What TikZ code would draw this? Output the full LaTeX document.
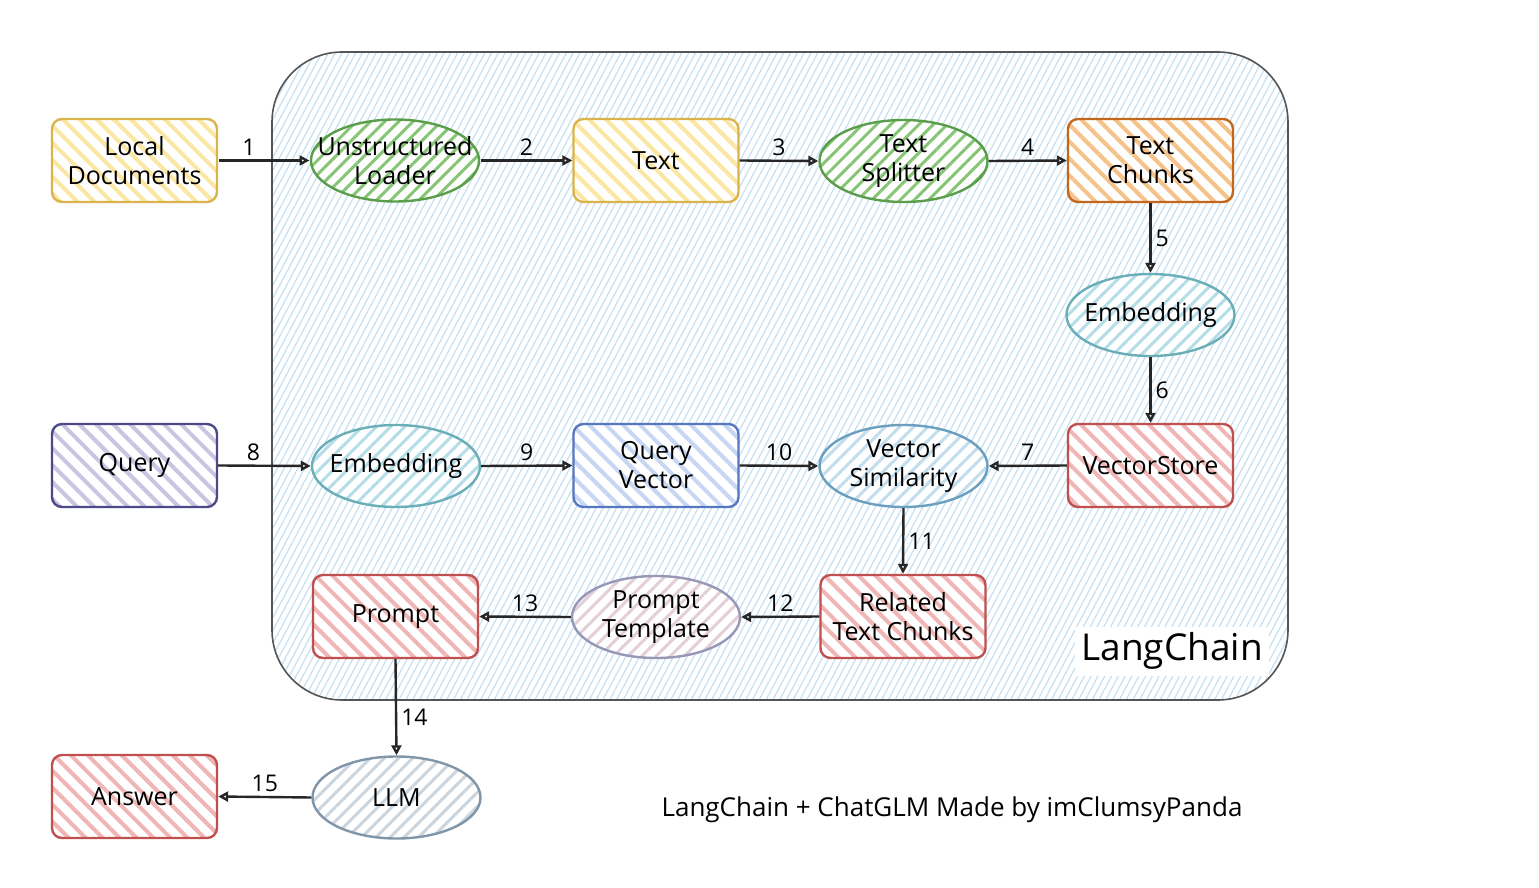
\documentclass[tikz,border=0pt]{standalone}
\usepackage{fontspec}
\setmainfont{Open Sans}
\usetikzlibrary{shapes.geometric,patterns.meta,arrows.meta}
\definecolor{ylS}{HTML}{D9B44A}\definecolor{ylH}{HTML}{FBE7A3}
\definecolor{grS}{HTML}{5A9E4B}\definecolor{grH}{HTML}{86C476}
\definecolor{orS}{HTML}{C2671B}\definecolor{orH}{HTML}{F5C28A}
\definecolor{tlS}{HTML}{6AAEB7}\definecolor{tlH}{HTML}{B5DDE8}
\definecolor{rdS}{HTML}{C0504F}\definecolor{rdH}{HTML}{F0B6B5}
\definecolor{puS}{HTML}{4B4A86}\definecolor{puH}{HTML}{C9C4E2}
\definecolor{blS}{HTML}{5477BF}\definecolor{blH}{HTML}{C6D6F3}
\definecolor{vsS}{HTML}{6A9FC0}\definecolor{vsH}{HTML}{C2DDEE}
\definecolor{ptS}{HTML}{9797B8}\definecolor{ptH}{HTML}{E3CFD8}
\definecolor{llS}{HTML}{8096A8}\definecolor{llH}{HTML}{CBD5DE}
\definecolor{lcS}{HTML}{555555}\definecolor{lcH}{HTML}{C4E0F2}
\tikzset{
  rbox/.style args={#1/#2}{draw=#1, line width=1.2pt, rounded corners=5pt,
    minimum width=82.5pt, minimum height=41.5pt, inner sep=1pt,
    align=center, font=\fontsize{12.5}{14.5}\selectfont,
    preaction={fill=white},
    pattern={Lines[angle=-45,distance=6pt,line width=2pt]}, pattern color=#2},
  rell/.style args={#1/#2}{ellipse, draw=#1, line width=1.2pt,
    minimum width=84pt, minimum height=41pt, inner sep=0pt,
    preaction={fill=white},
    pattern={Lines[angle=45,distance=5pt,line width=1.5pt]}, pattern color=#2},
  every label/.style={align=center, font=\fontsize{12.5}{14.5}\selectfont, inner sep=0pt},
  arr/.style={draw=black!85, line width=1.2pt, -{Triangle[open,length=5pt,width=5pt]}},
  lbl/.style={font=\fontsize{11.5}{13}\selectfont, inner sep=2pt},
}
\begin{document}
\begin{tikzpicture}[x=0.5pt,y=-0.5pt]
\useasboundingbox (0,0) rectangle (1539,888);
% container
\node[draw=lcS, line width=0.8pt, rounded corners=35pt, minimum width=508pt, minimum height=324pt,
  preaction={fill=white}, pattern={Lines[angle=62,distance=3pt,line width=0.6pt]}, pattern color=lcH]
  (lc) at (780,376) {};
\node[fill=white, font=\fontsize{18.5}{22}\selectfont, inner sep=3pt] (lctitle) at (1172,651) {LangChain};
% nodes
\node[rbox=ylS/ylH] (ld) at (134.5,160.5) {Local\\Documents};
\node[rell=grS/grH, label=center:{Unstructured\\Loader}] (ul) at (395,160.5) {};
\node[rbox=ylS/ylH] (tx) at (656,160.5) {Text};
\node[rell=grS/grH, label=center:{Text\\Splitter}] (ts) at (903.5,161) {};
\node[rbox=orS/orH] (tc) at (1150.5,160.5) {Text\\Chunks};
\node[rell=tlS/tlH, label=center:{Embedding}] (em1) at (1150.5,315) {};
\node[rbox=rdS/rdH] (vst) at (1150.5,465.5) {VectorStore};
\node[rbox=puS/puH] (q) at (134.5,465.5) {Query};
\node[rell=tlS/tlH, label=center:{Embedding}] (em2) at (396,466) {};
\node[rbox=blS/blH] (qv) at (656,465.5) {Query\\Vector};
\node[rell=vsS/vsH, label=center:{Vector\\Similarity}] (vsim) at (903.5,466) {};
\node[rbox=rdS/rdH] (rtc) at (903,616.5) {Related\\Text Chunks};
\node[rell=ptS/ptH, label=center:{Prompt\\Template}] (pt) at (656,617) {};
\node[rbox=rdS/rdH] (pr) at (395.5,616.5) {Prompt};
\node[rell=llS/llH, label=center:{LLM}] (llm) at (396.5,797.5) {};
\node[rbox=rdS/rdH] (ans) at (134.5,796.5) {Answer};
% footer
\node[font=\fontsize{13}{15}\selectfont] (foot) at (952,810) {LangChain + ChatGLM Made by imClumsyPanda};
% connectors
\draw[arr] (ld.east) -- (ul.west) node[lbl, pos=0.33, above] {1};
\draw[arr] (ul.east) -- (tx.west) node[lbl, midway, above] {2};
\draw[arr] (tx.east) -- (ts.west) node[lbl, midway, above] {3};
\draw[arr] (ts.east) -- (tc.west) node[lbl, midway, above] {4};
\draw[arr] (tc.south) -- (em1.north) node[lbl, midway, right] {5};
\draw[arr] (em1.south) -- (vst.north) node[lbl, midway, right] {6};
\draw[arr] (vst.west) -- (vsim.east) node[lbl, midway, above] {7};
\draw[arr] (q.east) -- (em2.west) node[lbl, pos=0.38, above] {8};
\draw[arr] (em2.east) -- (qv.west) node[lbl, midway, above] {9};
\draw[arr] (qv.east) -- (vsim.west) node[lbl, midway, above] {10};
\draw[arr] (vsim.south) -- (rtc.north) node[lbl, midway, right] {11};
\draw[arr] (rtc.west) -- (pt.east) node[lbl, midway, above] {12};
\draw[arr] (pt.west) -- (pr.east) node[lbl, midway, above] {13};
\draw[arr] (pr.south) -- (llm.north) node[lbl, pos=0.6, right] {14};
\draw[arr] (llm.west) -- (ans.east) node[lbl, midway, above] {15};
\end{tikzpicture}
\end{document}
